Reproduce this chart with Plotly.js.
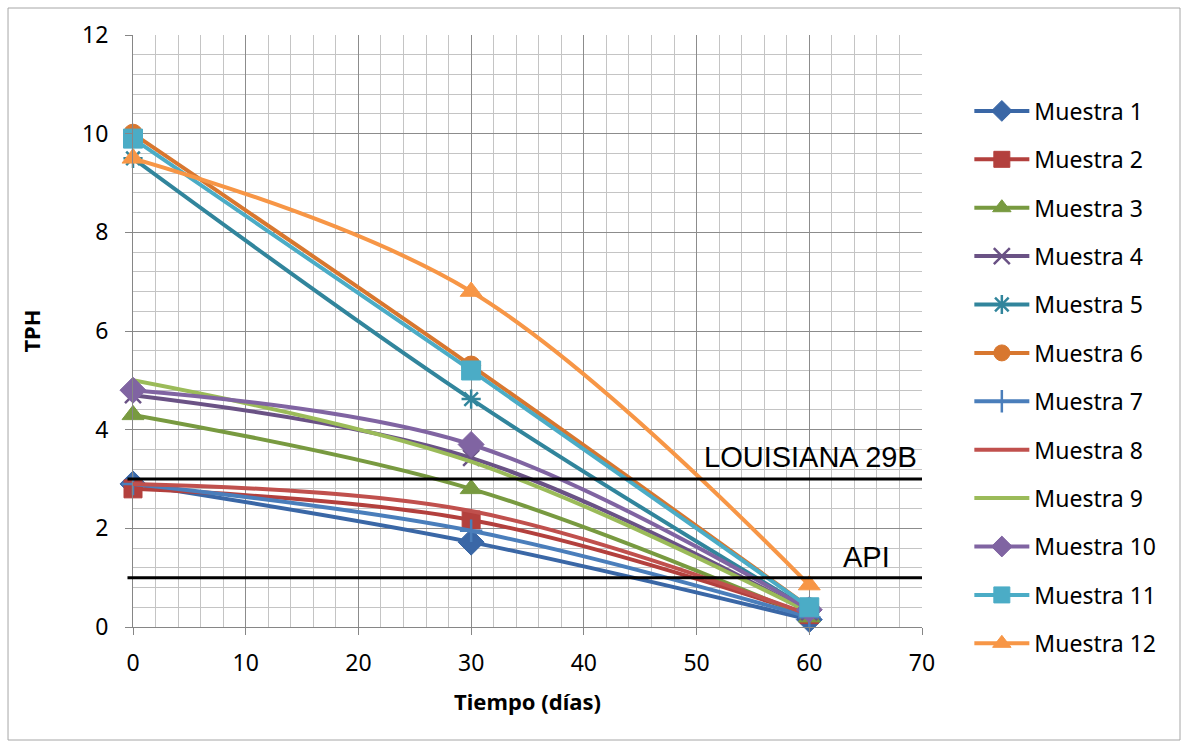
<!DOCTYPE html>
<html>
<head>
<meta charset="utf-8">
<script src="https://cdn.plot.ly/plotly-3.0.1.min.js"></script>
<style>
  html, body { margin: 0; padding: 0; background: #ffffff; }
  #chart { width: 1186px; height: 747px; }
</style>
</head>
<body>
<div id="chart"></div>
<script>
// ---- data ----
const days = [0, 30, 60];
const seriesNames = ["Muestra 1","Muestra 2","Muestra 3","Muestra 4","Muestra 5","Muestra 6",
                     "Muestra 7","Muestra 8","Muestra 9","Muestra 10","Muestra 11","Muestra 12"];
const muestra1  = [2.9, 1.72, 0.15];
const muestra2  = [2.8, 2.17, 0.25];
const muestra3  = [4.3, 2.8, 0.2];
const muestra4  = [4.7, 3.43, 0.3];
const muestra5  = [9.5, 4.62, 0.35];
const muestra6  = [10.0, 5.3, 0.4];
const muestra7  = [2.9, 1.95, 0.2];
const muestra8  = [2.9, 2.35, 0.25];
const muestra9  = [5.0, 3.35, 0.3];
const muestra10 = [4.8, 3.7, 0.35];
const muestra11 = [9.9, 5.2, 0.4];
const muestra12 = [9.5, 6.8, 0.85];
const limitNames = ["LOUISIANA 29B", "API"];
const limitValues = [3, 1];
const limitLabelX = [60.1, 65.1];
const limitLabelY = [3.45, 1.42];

const allValues = [muestra1, muestra2, muestra3, muestra4, muestra5, muestra6,
                   muestra7, muestra8, muestra9, muestra10, muestra11, muestra12];

// ---- styles ----
const colors = ["#3A67A6","#B3403D","#789A40","#6A5285","#31859C","#D8772F",
                "#4A7EBB","#C0504D","#9BBB59","#8064A2","#4BACC6","#F79646"];
const symbols = ["diamond","square","triangle-up","x-thin-open","asterisk-open","circle",
                 "cross-thin-open",null,null,"diamond","square","triangle-up"];
const sizes = [20,18,19,16,16,19,16,0,0,20,19,19];

const FONT = "Noto Sans, sans-serif";

const traces = seriesNames.map((name, i) => {
  const hasMarker = symbols[i] !== null;
  const t = {
    x: days, y: allValues[i], name: name, type: "scatter",
    mode: hasMarker ? "lines+markers" : "lines",
    legendgroup: "g" + i,
    line: { color: colors[i], width: 4, shape: "spline" },
    cliponaxis: false
  };
  if (hasMarker) {
    const open = symbols[i].indexOf("open") >= 0;
    t.marker = { symbol: symbols[i], size: sizes[i], color: colors[i],
                 line: { color: colors[i], width: open ? 2.5 : 1 } };
  }
  return t;
});

const shapes = limitValues.map(v => ({
  type: "line", xref: "paper", yref: "y", x0: -0.007, x1: 1.0, y0: v, y1: v,
  line: { color: "#000000", width: 3 }, layer: "above"
}));
// outer chart border
shapes.push({ type: "rect", xref: "paper", yref: "paper",
  x0: -0.1584, x1: 1.327, y0: -0.1909, y1: 1.0456,
  line: { color: "#a6a6a6", width: 1 }, fillcolor: "rgba(0,0,0,0)" });

const annotations = limitNames.map((n, i) => ({
  x: limitLabelX[i], y: limitLabelY[i], xref: "x", yref: "y", text: n,
  showarrow: false, font: { family: "Liberation Sans, Arial, sans-serif", size: 29, color: "#000" }
}));

const layout = {
  width: 1186, height: 747,
  margin: { l: 133, r: 264, t: 35, b: 120 },
  paper_bgcolor: "#ffffff", plot_bgcolor: "#ffffff",
  font: { family: FONT, size: 20, color: "#000" },
  showlegend: true,
  legend: {
    x: 1.06, y: 0.908, xanchor: "left", yanchor: "top",
    font: { family: FONT, size: 23, color: "#000" },
    tracegroupgap: 15.5, itemwidth: 55, traceorder: "grouped",
    bgcolor: "rgba(0,0,0,0)"
  },
  xaxis: {
    range: [0, 70], dtick: 10, tick0: 0,
    showgrid: true, gridcolor: "#8c8c8c", gridwidth: 1,
    minor: { dtick: 2, showgrid: true, gridcolor: "#c4c4c4", gridwidth: 1, ticks: "" },
    showline: true, linecolor: "#868686", linewidth: 1,
    ticks: "outside", ticklen: 7, tickcolor: "#868686",
    ticklabelstandoff: 8,
    zeroline: false,
    tickfont: { family: FONT, size: 23 },
    title: { text: "<b>Tiempo (días)</b>", font: { family: FONT, size: 22 }, standoff: 18 }
  },
  yaxis: {
    range: [0, 12], dtick: 2, tick0: 0,
    showgrid: true, gridcolor: "#8c8c8c", gridwidth: 1,
    minor: { dtick: 0.4, showgrid: true, gridcolor: "#c4c4c4", gridwidth: 1, ticks: "" },
    showline: true, linecolor: "#868686", linewidth: 1,
    ticks: "outside", ticklen: 7, tickcolor: "#868686",
    ticklabelstandoff: 12,
    zeroline: false,
    tickfont: { family: FONT, size: 23 },
    title: { text: "<b>TPH</b>", font: { family: FONT, size: 22 }, standoff: 35 }
  },
  shapes: shapes,
  annotations: annotations
};

Plotly.newPlot("chart", traces, layout, { displayModeBar: false, staticPlot: true });
</script>
</body>
</html>
